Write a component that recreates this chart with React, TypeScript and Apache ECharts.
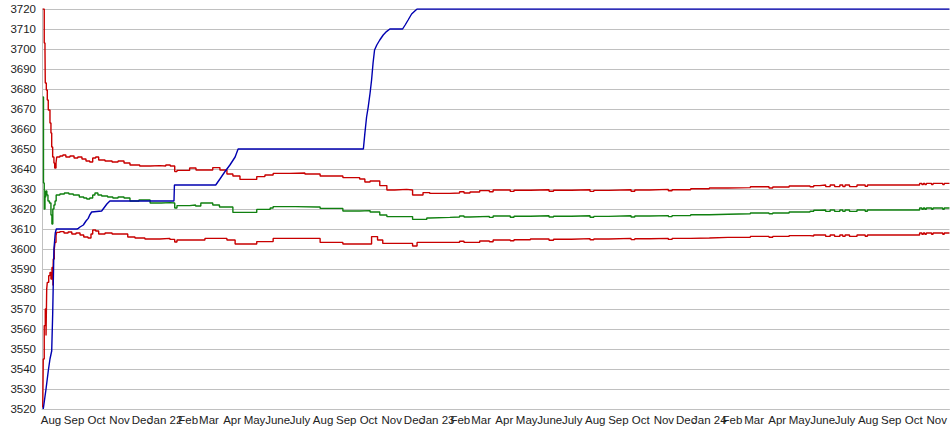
import React, { useEffect, useRef } from "react";
import * as echarts from "echarts";

// Day offsets are counted from START_DATE.
const START_DATE = "2021-07-20";
const END_DAY = 1217;

const MONTH_NAMES = ["Jan", "Feb", "Mar", "Apr", "May", "June", "July", "Aug", "Sep", "Oct", "Nov", "Dec"];
const FIRST_LABEL_MONTH = "2021-08-01";
const LABEL_COUNT = 40;

const Y_MIN = 3520;
const Y_MAX = 3720;
const Y_STEP = 10;

// [day offset, value]
const blueLine: [number, number][] = [
  [1.7, 3520], [5.4, 3530], [8.4, 3539], [10.7, 3545], [13, 3549], [14.3, 3567], [16, 3600],
  [17.8, 3608], [19.2, 3610], [47, 3610], [48.7, 3610.3], [51, 3611], [55.4, 3612], [59, 3614],
  [62, 3615.3], [64, 3617], [66.6, 3618.5], [80, 3619], [83, 3620.5], [87, 3622.5], [91, 3624],
  [177, 3624], [177.6, 3632], [233, 3632], [238.6, 3635], [245, 3638.5], [252, 3642], [259, 3646],
  [263, 3650], [431, 3650], [433, 3657.8], [435.3, 3666], [437.5, 3671], [440, 3678], [442, 3684.5],
  [444, 3693], [446, 3699.5], [449, 3702], [453, 3704.5], [457.6, 3707], [462, 3708.7], [466.5, 3710],
  [483.6, 3710], [487, 3712], [491, 3714.5], [495.7, 3717.5], [500, 3719], [503, 3720], [1217, 3720],
];

const upperBand: [number, number][] = [
  [1, 3720], [3, 3703], [4, 3699.5], [4.4, 3683], [5.8, 3679.5], [7.1, 3674.5], [8.4, 3669.5],
  [10.7, 3663], [12, 3658], [13, 3651], [14.3, 3646], [16, 3643], [17, 3640.5], [18.8, 3643],
  [19.7, 3646], [24, 3646.5], [28, 3647], [32, 3646], [37.5, 3646.5], [43, 3645.5], [48, 3646],
  [53.6, 3645], [59, 3644], [64, 3643.5], [68, 3645.5], [72, 3646], [76, 3644.5], [84.5, 3644],
  [94, 3643.5], [102, 3644], [110, 3643], [118, 3642], [131, 3641.5], [145, 3641.7], [158, 3641.5],
  [166, 3642], [172, 3641.5], [178, 3638.7], [181, 3639.3], [198, 3640.5], [206.5, 3639.5],
  [229, 3640.7], [238.6, 3639.5], [248, 3637.5], [256, 3636.5], [265.5, 3634.8], [288, 3636.2],
  [299, 3637], [310, 3637.8], [332.5, 3638], [352.6, 3637.5], [373, 3636.5], [403.5, 3635.7],
  [426, 3635], [433, 3633.5], [440, 3634], [453, 3631.7], [462.5, 3629.5], [473, 3629.8],
  [489, 3629.5], [497, 3627], [511, 3628.2], [520, 3627.8], [547, 3628], [560, 3628.6],
  [566, 3628], [574, 3628.5], [587, 3629.2], [600, 3628.6], [605, 3629.5], [628, 3628.8],
  [633, 3629.4], [655, 3629.6], [680, 3628.9], [686, 3629.4], [710, 3629.6], [735, 3628.8],
  [740, 3629.3], [760, 3629.6], [790, 3628.9], [795, 3629.5], [815, 3629.8], [840, 3629.1],
  [845, 3629.6], [870, 3630.1], [895, 3630.5], [920, 3630.7], [950, 3631.1], [975, 3630.5],
  [980, 3631], [1002, 3631.5], [1030, 3631.1], [1035, 3631.7], [1043, 3632], [1051, 3631.2],
  [1057, 3632], [1063, 3631.2], [1070, 3632], [1074, 3631.2], [1077, 3632], [1083, 3631.2],
  [1093, 3632], [1104, 3631.3], [1107, 3632], [1177, 3632.8], [1180, 3632.2], [1182, 3632.8],
  [1184, 3632.2], [1186, 3632.8], [1193, 3632.2], [1195, 3632.8], [1208, 3632.2], [1210, 3632.8],
  [1217, 3632.8],
];

const middleLine: [number, number][] = [
  [1, 3676], [2, 3633], [3, 3620], [4, 3626], [5, 3629], [6.5, 3627], [8, 3624], [10, 3623],
  [12, 3617], [13.3, 3612.5], [14.5, 3620], [16, 3622], [17.5, 3624], [19, 3627], [24, 3627.5],
  [30, 3628], [36, 3627.5], [42, 3627], [50, 3626], [56, 3625.5], [60, 3625], [64, 3625.5],
  [68, 3627], [71, 3628], [75, 3627], [80, 3626.5], [88, 3626], [95, 3625.5], [102, 3626],
  [110, 3625.5], [118, 3624], [130, 3624.5], [145, 3623], [160, 3623.2], [172, 3623],
  [178, 3620.5], [181, 3621.7], [198, 3622], [206, 3621.5], [213, 3623], [229, 3622], [238, 3621],
  [248, 3621], [256, 3618.3], [283, 3618.3], [288, 3619.8], [306, 3620.5], [310, 3621.2],
  [340, 3621], [369, 3621], [373, 3620.3], [400, 3620.3], [403.5, 3619], [426, 3619.2],
  [440, 3618.5], [453, 3617], [462.5, 3616.2], [489, 3616.2], [497, 3614.8], [516, 3615.5],
  [520, 3615.8], [547, 3616], [560, 3616.5], [566, 3616], [574, 3616.3], [600, 3615.8],
  [605, 3616.5], [628, 3615.9], [633, 3616.4], [655, 3616.6], [680, 3616], [686, 3616.4],
  [710, 3616.6], [735, 3615.9], [740, 3616.3], [760, 3616.6], [790, 3616], [795, 3616.5],
  [815, 3616.7], [840, 3616.2], [845, 3616.7], [870, 3617.1], [895, 3617.4], [920, 3617.6],
  [950, 3618], [975, 3617.6], [980, 3618], [1002, 3618.5], [1030, 3618.9], [1035, 3619.4],
  [1043, 3619.5], [1051, 3618.8], [1057, 3619.5], [1063, 3618.8], [1070, 3619.5], [1074, 3618.8],
  [1077, 3619.5], [1083, 3618.8], [1093, 3619.5], [1104, 3618.9], [1107, 3619.5], [1177, 3620.5],
  [1180, 3619.9], [1182, 3620.5], [1184, 3619.9], [1186, 3620.5], [1193, 3619.9], [1195, 3620.5],
  [1208, 3619.9], [1210, 3620.5], [1217, 3620.5],
];

const lowerBand: [number, number][] = [
  [1, 3520.8], [1.7, 3545], [3, 3561.7], [4.4, 3570], [5.4, 3556.7], [6.3, 3580], [7.1, 3583.3],
  [9, 3586.7], [10.7, 3588.3], [12, 3585], [13.4, 3590.8], [14.7, 3581.7], [15.1, 3595],
  [16.5, 3600], [17.4, 3603.3], [18.8, 3606.7], [19.7, 3608.3], [24, 3608.7], [29.5, 3608],
  [35, 3608.5], [40, 3607.5], [45.6, 3608], [51, 3607], [56, 3606], [61.7, 3605.5], [65.7, 3607.5],
  [68, 3609.5], [72, 3609], [76, 3607.5], [84.5, 3608], [94, 3607.5], [104.6, 3607.5], [115, 3606],
  [124.7, 3605.5], [138, 3605], [158, 3605.3], [171.6, 3604.8], [178, 3603.5], [181, 3604.5],
  [212, 3604.5], [218.5, 3605.3], [234.6, 3605.3], [248, 3604.5], [259, 3602.5], [283, 3602.5],
  [288, 3603.7], [310, 3605.3], [369, 3605.3], [373, 3603.3], [403.5, 3602.5], [442, 3606.2],
  [450, 3604.5], [457, 3602.8], [497, 3601.5], [503, 3603.3], [547, 3603.3], [560, 3603.9],
  [566, 3603.3], [587, 3604], [600, 3603.6], [605, 3604.5], [628, 3604.1], [633, 3604.6],
  [655, 3605], [680, 3604.4], [686, 3604.9], [710, 3605.2], [735, 3604.6], [740, 3605],
  [760, 3605.3], [790, 3604.7], [795, 3605.1], [815, 3605.3], [840, 3604.8], [845, 3605.3],
  [870, 3605.5], [895, 3605.8], [920, 3605.9], [950, 3606.3], [975, 3605.9], [980, 3606.3],
  [1002, 3606.7], [1030, 3606.5], [1035, 3607], [1051, 3606.3], [1057, 3607], [1063, 3606.3],
  [1070, 3607], [1074, 3606.3], [1077, 3607], [1083, 3606.3], [1093, 3607], [1104, 3606.4],
  [1107, 3607], [1177, 3608], [1180, 3607.4], [1182, 3608], [1184, 3607.4], [1186, 3608],
  [1193, 3607.4], [1195, 3608], [1208, 3607.4], [1210, 3608], [1217, 3608],
];

const DAY_MS = 86400000;

export default function App() {
  const ref = useRef<HTMLDivElement>(null);

  useEffect(() => {
    document.body.style.margin = "0";
    if (!ref.current) return;
    const chart = echarts.init(ref.current, undefined, { renderer: "svg" });

    const start = new Date(START_DATE + "T00:00:00Z").getTime();
    const first = new Date(FIRST_LABEL_MONTH + "T00:00:00Z");
    const labelDays: number[] = [];
    for (let i = 0; i < LABEL_COUNT; i++) {
      const t = Date.UTC(first.getUTCFullYear(), first.getUTCMonth() + i, 1);
      labelDays.push(Math.round((t - start) / DAY_MS));
    }

    const font = { fontFamily: "'Liberation Sans', Arial, sans-serif", fontSize: 11.5, color: "#222" };

    chart.setOption({
      animation: false,
      grid: { left: 42, right: 0, top: 9, bottom: 26, containLabel: false },
      xAxis: {
        type: "value",
        min: 0,
        max: END_DAY,
        axisLine: { show: true, lineStyle: { color: "#c0c0c0", width: 1 } },
        axisTick: { show: false },
        splitLine: { show: false },
        axisLabel: {
          ...font,
          margin: 5,
          hideOverlap: false,
          showMinLabel: true,
          showMaxLabel: true,
          customValues: labelDays,
          formatter: (val: number) => {
            const d = new Date(start + val * DAY_MS);
            const m = d.getUTCMonth();
            if (m === 0) return "Jan " + String(d.getUTCFullYear()).slice(2);
            return MONTH_NAMES[m];
          },
        },
      },
      yAxis: {
        type: "value",
        min: Y_MIN,
        max: Y_MAX,
        interval: Y_STEP,
        axisLine: { show: true, lineStyle: { color: "#c0c0c0", width: 1 } },
        axisTick: { show: false },
        splitLine: { show: true, lineStyle: { color: "#c0c0c0", width: 1 } },
        axisLabel: { ...font, margin: 6, formatter: (v: number) => String(v) },
      },
      series: [
        {
          type: "line",
          data: lowerBand,
          step: "end",
          showSymbol: false,
          lineStyle: { color: "#c80000", width: 1.4 },
        },
        {
          type: "line",
          data: upperBand,
          step: "end",
          showSymbol: false,
          lineStyle: { color: "#c80000", width: 1.4 },
        },
        {
          type: "line",
          data: middleLine,
          step: "end",
          showSymbol: false,
          lineStyle: { color: "#108010", width: 1.4 },
        },
        {
          type: "line",
          data: blueLine,
          showSymbol: false,
          lineStyle: { color: "#0000b0", width: 1.4 },
        },
      ],
    });

    return () => chart.dispose();
  }, []);

  return <div ref={ref} style={{ width: 950, height: 435 }} />;
}
